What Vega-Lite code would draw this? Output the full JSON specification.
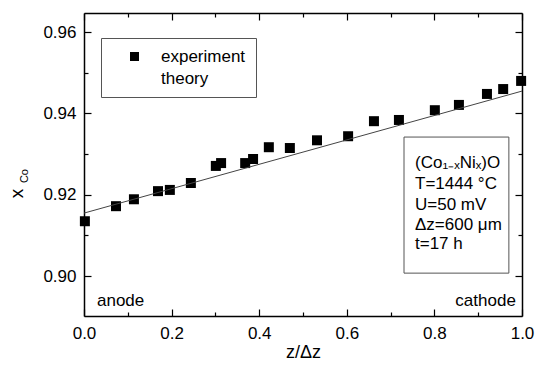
{
  "$schema": "https://vega.github.io/schema/vega-lite/v6.json",
  "width": 438,
  "height": 303,
  "autosize": {"type": "none"},
  "padding": {"left": 84, "top": 13, "right": 14, "bottom": 58},
  "background": "white",
  "config": {
    "view": {"stroke": null},
    "font": "Liberation Sans",
    "axis": {
      "domainColor": "black",
      "domainWidth": 1.5,
      "tickColor": "black",
      "tickWidth": 1.2,
      "grid": false,
      "labelFont": "Liberation Sans",
      "labelColor": "black",
      "labelFontSize": 17,
      "titleFont": "Liberation Sans",
      "titleColor": "black",
      "titleFontWeight": "normal"
    }
  },
  "datasets": {
    "experiment": [
      {"z": 0.002, "xco": 0.9135, "series": "experiment"},
      {"z": 0.073, "xco": 0.9172, "series": "experiment"},
      {"z": 0.114, "xco": 0.9189, "series": "experiment"},
      {"z": 0.169, "xco": 0.9209, "series": "experiment"},
      {"z": 0.196, "xco": 0.9212, "series": "experiment"},
      {"z": 0.244, "xco": 0.9229, "series": "experiment"},
      {"z": 0.301, "xco": 0.9271, "series": "experiment"},
      {"z": 0.313, "xco": 0.9278, "series": "experiment"},
      {"z": 0.368, "xco": 0.9278, "series": "experiment"},
      {"z": 0.386, "xco": 0.9288, "series": "experiment"},
      {"z": 0.422, "xco": 0.9317, "series": "experiment"},
      {"z": 0.470, "xco": 0.9315, "series": "experiment"},
      {"z": 0.532, "xco": 0.9334, "series": "experiment"},
      {"z": 0.603, "xco": 0.9344, "series": "experiment"},
      {"z": 0.662, "xco": 0.9381, "series": "experiment"},
      {"z": 0.719, "xco": 0.9384, "series": "experiment"},
      {"z": 0.801, "xco": 0.9408, "series": "experiment"},
      {"z": 0.856, "xco": 0.9421, "series": "experiment"},
      {"z": 0.920, "xco": 0.9448, "series": "experiment"},
      {"z": 0.957, "xco": 0.9460, "series": "experiment"},
      {"z": 0.998, "xco": 0.9480, "series": "experiment"}
    ],
    "theory": [
      {"z": 0.0, "xco": 0.9155},
      {"z": 1.0, "xco": 0.9455}
    ],
    "notes": [
      {"z": 0.7557, "xco": 0.92656, "label": "(Co₁₋ₓNiₓ)O"},
      {"z": 0.7557, "xco": 0.9214, "label": "T=1444 °C"},
      {"z": 0.7557, "xco": 0.91623, "label": "U=50 mV"},
      {"z": 0.7557, "xco": 0.91131, "label": "Δz=600 μm"},
      {"z": 0.7557, "xco": 0.90664, "label": "t=17 h"}
    ],
    "box": [
      {"z": 0.7306, "z2": 0.970, "xco": 0.9342, "xco2": 0.90074}
    ],
    "anode": [
      {"z": 0.0297, "xco": 0.8926, "label": "anode"}
    ],
    "cathode": [
      {"z": 0.986, "xco": 0.8926, "label": "cathode"}
    ],
    "sub": [
      {"z": -0.134, "xco": 0.9246, "label": "Co"}
    ]
  },
  "layer": [
    {
      "data": {"name": "experiment"},
      "mark": {"type": "point", "filled": true, "opacity": 1, "color": "black", "size": 100},
      "encoding": {
        "x": {
          "field": "z", "type": "quantitative",
          "scale": {"domain": [0, 1], "nice": false, "zero": false},
          "axis": {
            "orient": "bottom",
            "title": "z/Δz",
            "titleFontSize": 18,
            "titleY": 36,
            "titleBaseline": "middle",
            "values": [0, 0.1, 0.2, 0.3, 0.4, 0.5, 0.6, 0.7, 0.8, 0.9, 1.0],
            "labelExpr": "round(datum.value*10) % 2 == 0 ? format(datum.value, '.1f') : ''",
            "tickSize": {"condition": {"test": "round(datum.value*10) % 2 == 0", "value": -7}, "value": -4},
            "labelPadding": 16,
            "labelFlush": false,
            "labelOverlap": false
          }
        },
        "y": {
          "field": "xco", "type": "quantitative",
          "scale": {"domain": [0.8902, 0.9647], "nice": false, "zero": false},
          "axis": {
            "orient": "left",
            "title": "x",
            "titleFontSize": 19,
            "titleAngle": 270,
            "titleX": -68,
            "titleY": 180,
            "titleAlign": "center",
            "titleBaseline": "middle",
            "values": [0.90, 0.91, 0.92, 0.93, 0.94, 0.95, 0.96],
            "labelExpr": "round(datum.value*100) % 2 == 0 ? format(datum.value, '.2f') : ''",
            "tickSize": {"condition": {"test": "round(datum.value*100) % 2 == 0", "value": -7}, "value": -4},
            "labelPadding": 15,
            "labelFlush": false,
            "labelOverlap": false
          }
        },
        "shape": {
          "field": "series", "type": "nominal",
          "scale": {"domain": ["experiment", "theory"], "range": ["square", "M0,0Z"]},
          "legend": {
            "title": null,
            "orient": "none",
            "legendX": 17,
            "legendY": 25,
            "padding": 10,
            "strokeColor": "#555555",
            "fillColor": "white",
            "symbolOffset": 15,
            "symbolSize": 81,
            "symbolFillColor": "black",
            "symbolStrokeColor": "black",
            "symbolStrokeWidth": 0,
            "labelOffset": 18,
            "labelFontSize": 17,
            "labelFont": "Liberation Sans",
            "labelColor": "black",
            "rowPadding": 4
          }
        }
      }
    },
    {
      "data": {"name": "theory"},
      "mark": {"type": "line", "color": "#444444", "strokeWidth": 1},
      "encoding": {
        "x": {
          "field": "z", "type": "quantitative",
          "axis": {
            "orient": "top",
            "title": null,
            "labels": false,
            "values": [0, 0.1, 0.2, 0.3, 0.4, 0.5, 0.6, 0.7, 0.8, 0.9, 1.0],
            "tickSize": {"condition": {"test": "round(datum.value*10) % 2 == 0", "value": -7}, "value": -4}
          }
        },
        "y": {
          "field": "xco", "type": "quantitative",
          "axis": {
            "orient": "right",
            "title": null,
            "labels": false,
            "values": [0.90, 0.91, 0.92, 0.93, 0.94, 0.95, 0.96],
            "tickSize": {"condition": {"test": "round(datum.value*100) % 2 == 0", "value": -7}, "value": -4}
          }
        }
      }
    },
    {
      "data": {"name": "box"},
      "mark": {"type": "rect", "fill": null, "stroke": "#555555", "strokeWidth": 1},
      "encoding": {
        "x": {"field": "z", "type": "quantitative", "axis": null},
        "x2": {"field": "z2"},
        "y": {"field": "xco", "type": "quantitative", "axis": null},
        "y2": {"field": "xco2"}
      }
    },
    {
      "data": {"name": "notes"},
      "mark": {"type": "text", "align": "left", "baseline": "alphabetic", "fontSize": 17, "font": "Liberation Sans", "color": "black"},
      "encoding": {
        "x": {"field": "z", "type": "quantitative", "axis": null},
        "y": {"field": "xco", "type": "quantitative", "axis": null},
        "text": {"field": "label"}
      }
    },
    {
      "data": {"name": "anode"},
      "mark": {"type": "text", "align": "left", "baseline": "alphabetic", "fontSize": 17, "font": "Liberation Sans", "color": "black"},
      "encoding": {
        "x": {"field": "z", "type": "quantitative", "axis": null},
        "y": {"field": "xco", "type": "quantitative", "axis": null},
        "text": {"field": "label"}
      }
    },
    {
      "data": {"name": "cathode"},
      "mark": {"type": "text", "align": "right", "baseline": "alphabetic", "fontSize": 17, "font": "Liberation Sans", "color": "black"},
      "encoding": {
        "x": {"field": "z", "type": "quantitative", "axis": null},
        "y": {"field": "xco", "type": "quantitative", "axis": null},
        "text": {"field": "label"}
      }
    },
    {
      "data": {"name": "sub"},
      "mark": {"type": "text", "angle": 270, "align": "center", "baseline": "middle", "fontSize": 11, "font": "Liberation Sans", "color": "black"},
      "encoding": {
        "x": {"field": "z", "type": "quantitative", "axis": null},
        "y": {"field": "xco", "type": "quantitative", "axis": null},
        "text": {"field": "label"}
      }
    }
  ],
  "resolve": {"axis": {"x": "independent", "y": "independent"}}
}
